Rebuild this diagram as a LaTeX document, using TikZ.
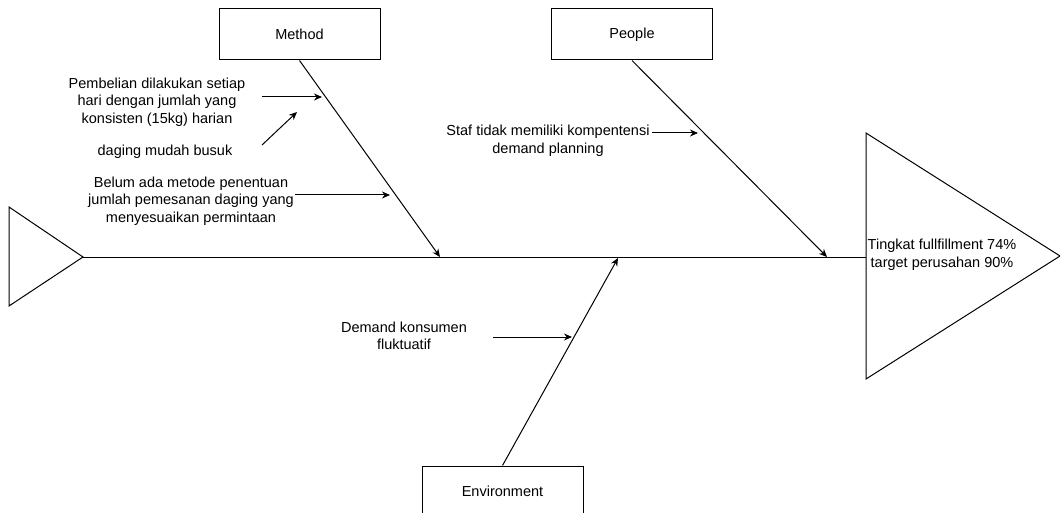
\documentclass[tikz,border=0pt]{standalone}
\usepackage{fontspec}
\setmainfont{Liberation Sans}
\usepackage{tikz}
\usetikzlibrary{positioning,arrows.meta,calc}
\tikzset{
  catbox/.style={draw=black, line width=1pt, minimum width=161pt, minimum height=51pt, inner sep=0pt, font=\fontsize{14.5}{17.5}\selectfont},
  note/.style={align=center, inner sep=0pt, font=\fontsize{14.5}{17.5}\selectfont},
  bone/.style={-{Stealth[length=8pt,width=7pt]}, line width=1pt, draw=black},
  arr/.style={-{Stealth[length=8pt,width=7pt]}, line width=1pt, draw=black},
}
\begin{document}
\begin{tikzpicture}[x=1pt,y=-1pt]
    \useasboundingbox (0,0) rectangle (1060,513);
    % head and tail of the fish
    \coordinate (tail) at (83,257);
    \coordinate (head) at (866,257);
    \draw[line width=1pt] (9,207) -- (tail) -- (9,306) -- cycle;
    \draw[line width=1pt] (866,133) -- (1060,256) -- (866,379) -- cycle;
    \draw[line width=1pt] (tail) -- (head);
    \node[note] (effect) at (942,255) {Tingkat fullfillment 74\%\\target perusahan 90\%};
    % categories
    \node[catbox] (method) at (299.5,34.5) {Method};
    \node[catbox] (people) at (632,34.5) {People};
    \node[catbox] (env) at (502.5,491.5) {Environment};
    \coordinate (mEnd) at (440,257);
    \coordinate (pEnd) at (827,257);
    \coordinate (eEnd) at (618,258);
    \draw[bone] (method.south) -- (mEnd);
    \draw[bone] (people.south) -- (pEnd);
    \draw[bone] (env.north) -- (eEnd);
    % causes
    \node[note] (beli) at (157,102) {Pembelian dilakukan setiap\\hari dengan jumlah yang\\konsisten (15kg) harian};
    \node[note] (busuk) at (165,152) {daging mudah busuk};
    \node[note] (metode) at (191,201) {Belum ada metode penentuan\\jumlah pemesanan daging yang\\menyesuaikan permintaan};
    \node[note] (staf) at (548,141) {Staf tidak memiliki kompentensi\\demand planning};
    \node[note] (demand) at (404,336) {Demand konsumen\\fluktuatif};
    \coordinate (b1) at (262,97);  \coordinate (t1) at (322,97);
    \coordinate (b2) at (262,145); \coordinate (t2) at (297,112);
    \coordinate (b3) at (295,195); \coordinate (t3) at (390,195);
    \coordinate (b4) at (652,133); \coordinate (t4) at (698,133);
    \coordinate (b5) at (493,337); \coordinate (t5) at (572,337);
    \draw[arr] (b1) -- (t1);
    \draw[arr] (b2) -- (t2);
    \draw[arr] (b3) -- (t3);
    \draw[arr] (b4) -- (t4);
    \draw[arr] (b5) -- (t5);
\end{tikzpicture}
\end{document}
